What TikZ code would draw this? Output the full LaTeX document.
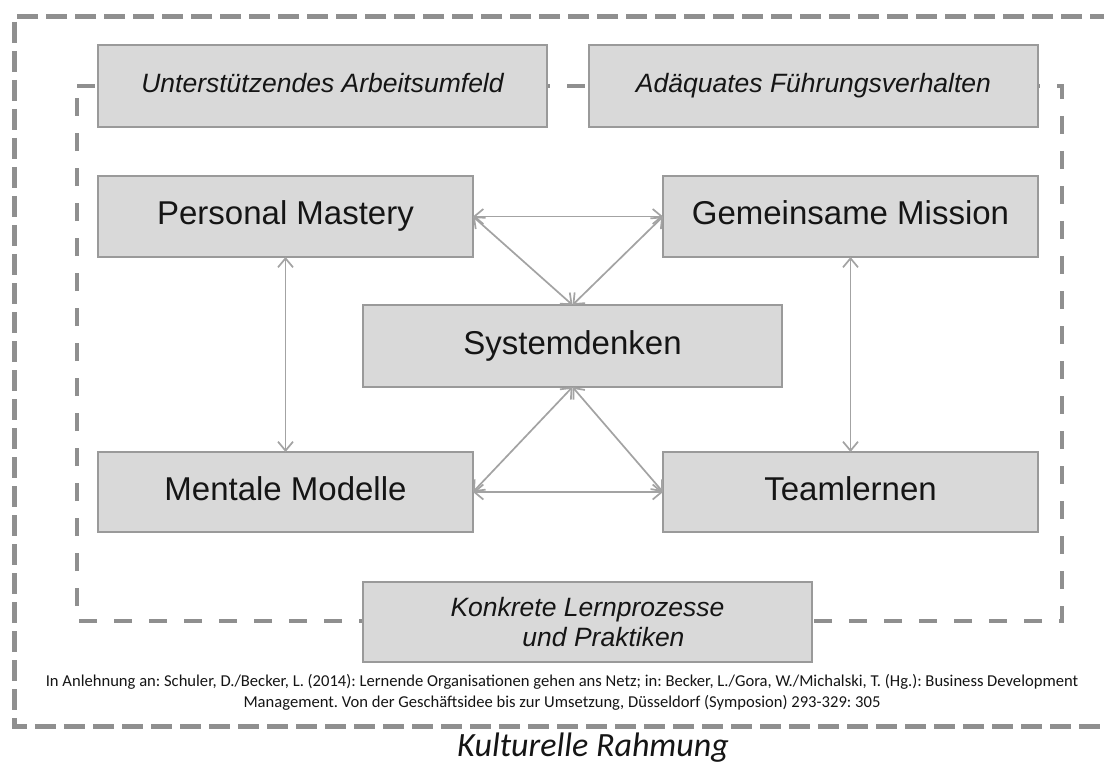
\documentclass[tikz,border=0pt]{standalone}
\usepackage{fontspec}
\setmainfont{Liberation Sans}
\newfontfamily\calfont{Carlito}
\usetikzlibrary{arrows.meta}
\definecolor{boxfill}{HTML}{D9D9D9}
\definecolor{boxline}{HTML}{9A9A9A}
\definecolor{dashcol}{HTML}{8F8F8F}
\definecolor{arrowcol}{HTML}{A3A3A3}
\definecolor{txt}{HTML}{151515}
\tikzset{
  boxnode/.style={draw=boxline, fill=boxfill, line width=1.5pt, inner sep=0pt, outer sep=0pt,
    text=txt},
  mainbox/.style={boxnode, font=\fontsize{33}{38}\selectfont, text height=24pt, text depth=7pt},
  italbox/.style={boxnode, font=\fontsize{26.5}{30}\selectfont\itshape, text height=19pt, text depth=5.6pt},
  twolinebox/.style={boxnode, font=\fontsize{26.5}{30}\selectfont\itshape, align=center},
  outerframe/.style={draw=dashcol, line width=5pt, dash pattern=on 21pt off 8pt},
  innerframe/.style={draw=dashcol, line width=3.5pt, dash pattern=on 18pt off 17pt},
  link/.style={draw=arrowcol, line width=1.7pt,
    {Straight Barb[length=9pt,width=15pt]}-{Straight Barb[length=9pt,width=15pt]}},
}
\begin{document}
\begin{tikzpicture}[x=1pt,y=-1pt]
\useasboundingbox (0,0) rectangle (1104,765);
\clip (0,0) rectangle (1104,765);
\fill[white] (0,0) rectangle (1104,765);
% frames
\draw[outerframe] (1140,17) -- (14,17) -- (14,726) -- (1140,726);
\draw[innerframe] (77,86) -- (1062,86) -- (1062,621) -- (77,621) -- cycle;
% boxes
\node[italbox, minimum width=449pt, minimum height=82pt] (UA) at (322.5,86) {Unterstützendes Arbeitsumfeld};
\node[italbox, minimum width=449pt, minimum height=82pt] (AF) at (813.5,86) {Adäquates Führungsverhalten};
\node[mainbox, minimum width=375pt, minimum height=81pt] (PM) at (285.5,216.5) {Personal Mastery};
\node[mainbox, minimum width=375pt, minimum height=81pt] (GM) at (850.5,216.5) {Gemeinsame Mission};
\node[mainbox, minimum width=419pt, minimum height=82pt] (SD) at (572.5,346) {Systemdenken};
\node[mainbox, minimum width=375pt, minimum height=80pt] (MM) at (285.5,492) {Mentale Modelle};
\node[mainbox, minimum width=375pt, minimum height=80pt] (TL) at (850.5,492) {Teamlernen};
\node[twolinebox, minimum width=449pt, minimum height=80pt] (KL) at (587.5,622) {Konkrete Lernprozesse\\\hspace*{32pt}und Praktiken};
% connectors
\draw[link] (PM.east) -- (GM.west);
\draw[link] (PM.east) -- (SD.north);
\draw[link] (GM.west) -- (SD.north);
\draw[link] (MM.east) -- (SD.south);
\draw[link] (TL.west) -- (SD.south);
\draw[link] (MM.east) -- (TL.west);
\draw[link] (PM.south) -- (MM.north);
\draw[link] (GM.south) -- (TL.north);
% texts
\node[text=txt, align=center, inner sep=0pt, font=\calfont\frenchspacing\fontsize{16.6}{21}\selectfont] (cite) at (562,692)
  {In Anlehnung an: Schuler, D./Becker, L. (2014): Lernende Organisationen gehen ans Netz; in: Becker, L./Gora, W./Michalski, T. (Hg.): Business Development\\
   Management. Von der Geschäftsidee bis zur Umsetzung, Düsseldorf (Symposion) 293-329: 305};
\node[text=txt, inner sep=0pt, font=\calfont\itshape\fontsize{34}{40}\selectfont] (KR) at (593,748) {Kulturelle Rahmung};
\end{tikzpicture}
\end{document}
